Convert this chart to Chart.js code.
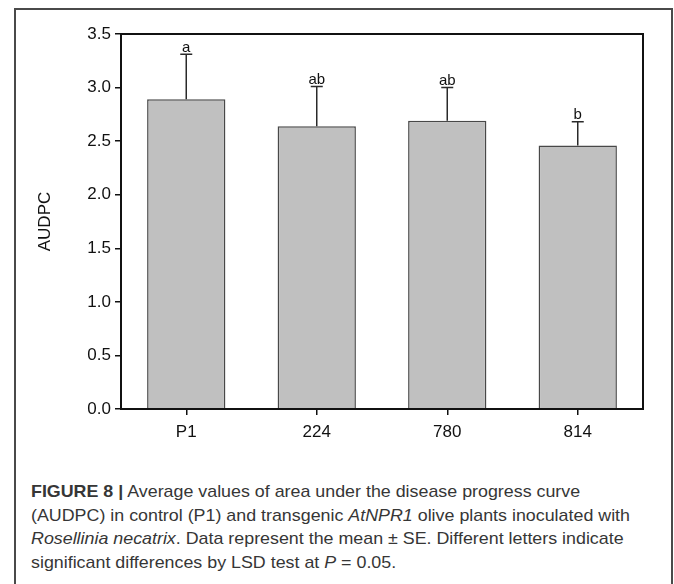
<!DOCTYPE html>
<html>
<head>
<meta charset="utf-8">
<script src="https://cdn.jsdelivr.net/npm/chart.js@4"></script>
<style>
  html, body { margin: 0; padding: 0; background: #fff; }
  body { width: 674px; height: 584px; position: relative; overflow: hidden; }
  #frame { position: absolute; left: 14px; top: 8px; width: 659px; height: 600px;
           border: 2px solid #4a4a4a; border-bottom: none; box-sizing: border-box; }
  #wrap { position: absolute; left: 0; top: 0; width: 674px; height: 460px; }
  #caption { position: absolute; left: 31px; top: 480px; color: #363636;
             font-family: "Liberation Sans Narrow", "Liberation Sans", Arial, sans-serif;
             font-size: 17px; line-height: 23.7px; white-space: nowrap; }
  #caption .ln { display: block; }
  #caption .ln span.t { display: inline-block; transform-origin: 0 50%; }
</style>
</head>
<body>
<div id="frame"></div>
<div id="wrap"><canvas id="c" width="674" height="460"></canvas></div>
<div id="caption">
  <div class="ln"><span class="t"><b>FIGURE 8 |</b> Average values of area under the disease progress curve</span></div>
  <div class="ln"><span class="t">(AUDPC) in control (P1) and transgenic <i>AtNPR1</i> olive plants inoculated with</span></div>
  <div class="ln"><span class="t"><i>Rosellinia necatrix</i>. Data represent the mean ± SE. Different letters indicate</span></div>
  <div class="ln"><span class="t">significant differences by LSD test at <i>P</i> = 0.05.</span></div>
</div>
<script>
const categories = ["P1", "224", "780", "814"];
const meanValues = [2.89, 2.64, 2.69, 2.46];
const seValues = [0.42, 0.37, 0.31, 0.22];
const sigLetters = ["a", "ab", "ab", "b"];
const yAxisTitle = "AUDPC";

const FONT = '"Liberation Sans", Arial, sans-serif';

const overlay = {
  id: 'overlay',
  afterDatasetsDraw(chart) {
    const ctx = chart.ctx;
    const xs = chart.scales.x, ys = chart.scales.y;
    const a = chart.chartArea;
    ctx.save();
    meanValues.forEach((m, i) => {
      const x = xs.getPixelForValue(i);
      const y0 = ys.getPixelForValue(m);
      const y1 = ys.getPixelForValue(m + seValues[i]);
      ctx.strokeStyle = '#2a2a2a';
      ctx.lineWidth = 1.5;
      ctx.beginPath();
      ctx.moveTo(x, y0);
      ctx.lineTo(x, y1);
      ctx.moveTo(x - 6, y1);
      ctx.lineTo(x + 6, y1);
      ctx.stroke();
      ctx.fillStyle = '#111';
      ctx.font = '15px ' + FONT;
      ctx.textAlign = 'center';
      ctx.textBaseline = 'alphabetic';
      ctx.fillText(sigLetters[i], x, y1 - 2.5);
    });
    ctx.strokeStyle = '#111';
    ctx.lineWidth = 2;
    ctx.strokeRect(a.left, a.top, a.right - a.left, a.bottom - a.top);
    ctx.translate(45, (a.top + a.bottom) / 2);
    ctx.rotate(-Math.PI / 2);
    ctx.font = '17px ' + FONT;
    ctx.fillStyle = '#111';
    ctx.textAlign = 'center';
    ctx.textBaseline = 'middle';
    ctx.fillText(yAxisTitle, 0, 0);
    ctx.restore();
  }
};

new Chart(document.getElementById('c'), {
  type: 'bar',
  data: {
    labels: categories,
    datasets: [{
      data: meanValues,
      backgroundColor: '#c0c0c0',
      borderColor: '#484848',
      borderWidth: 1.5,
      barPercentage: 0.6,
      categoryPercentage: 1.0
    }]
  },
  options: {
    responsive: false,
    animation: false,
    events: [],
    layout: { padding: { left: 0, top: 34, right: 31, bottom: 0 } },
    plugins: { legend: { display: false }, tooltip: { enabled: false }, title: { display: false } },
    scales: {
      x: {
        offset: true,
        grid: { offset: false, drawOnChartArea: false, drawTicks: true, tickLength: 6, color: '#111', lineWidth: 1.5 },
        border: { display: true, color: '#111', width: 2 },
        ticks: { color: '#111', font: { family: FONT, size: 17 }, padding: 7, maxRotation: 0 },
        afterFit(s) { s.height = 51; }
      },
      y: {
        min: 0, max: 3.5,
        grid: { drawOnChartArea: false, drawTicks: true, tickLength: 6, color: '#111', lineWidth: 1.5 },
        border: { display: true, color: '#111', width: 2 },
        ticks: { stepSize: 0.5, color: '#111', font: { family: FONT, size: 17 }, padding: 4,
                 callback: v => Number(v).toFixed(1) },
        afterFit(s) { s.width = 121; }
      }
    }
  },
  plugins: [overlay]
});

(function () {
  const spans = document.querySelectorAll('#caption .t');
  const w = spans[1].getBoundingClientRect().width;
  const k = 599 / w;
  spans.forEach(s => { s.style.transform = 'scaleX(' + k + ')'; });
})();
</script>
</body>
</html>
